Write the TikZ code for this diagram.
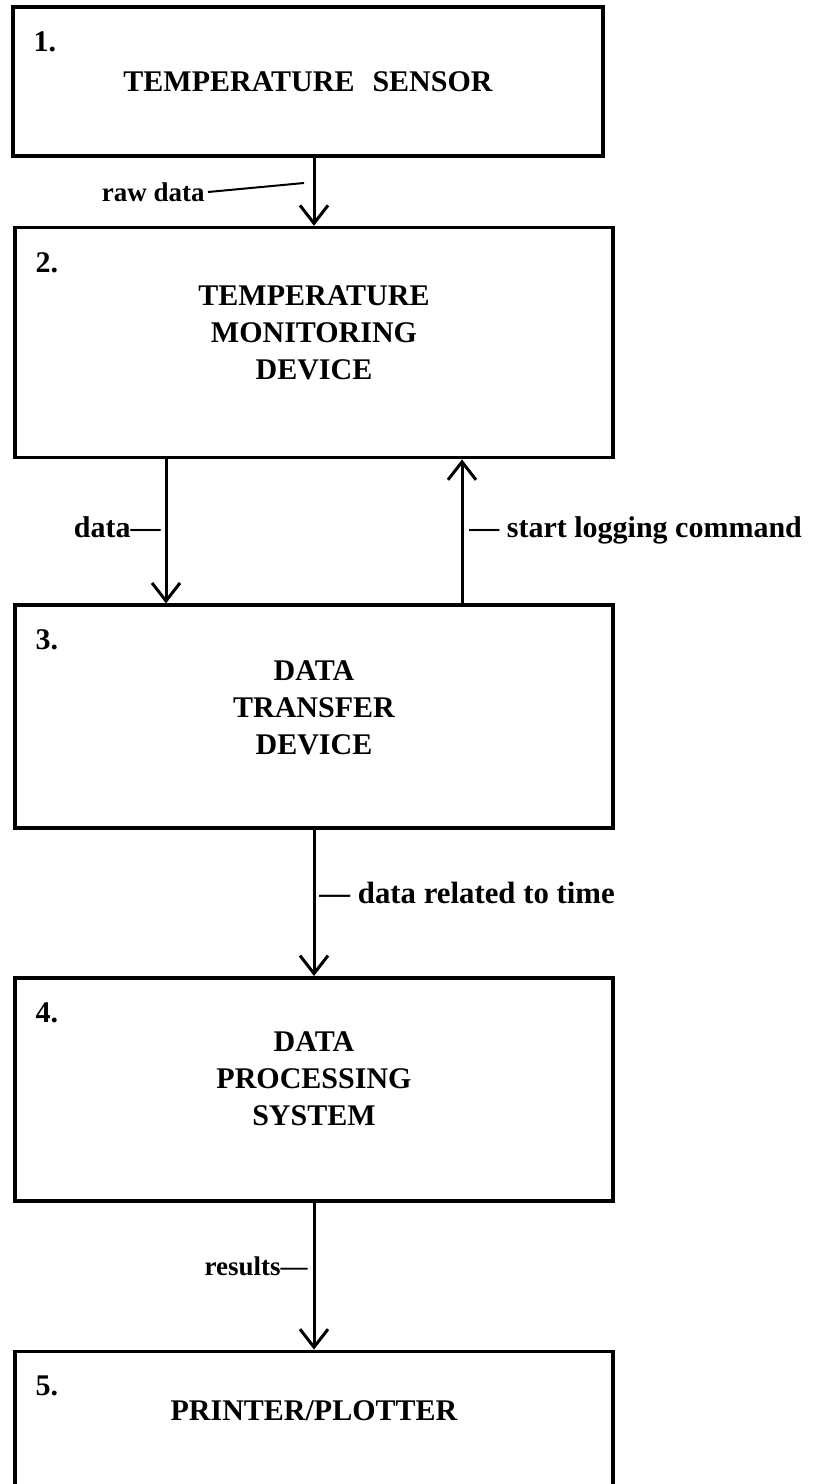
\documentclass[tikz,border=0pt]{standalone}
\usepackage{fontspec}
\setmainfont{Liberation Serif}
\usetikzlibrary{arrows.meta,positioning}
\tikzset{
  block/.style={draw,line width=1.8pt,inner sep=0pt,align=center,
                font=\fontsize{15}{18.5}\selectfont\bfseries,minimum width=299pt},
  num/.style={inner sep=0pt,anchor=north west,font=\fontsize{15}{18}\selectfont\bfseries},
  fl/.style={-{Straight Barb[length=9pt,width=14pt]},line width=1.5pt},
  lbl/.style={inner sep=1.5pt,font=\fontsize{15}{17}\selectfont\bfseries},
  lbls/.style={lbl,font=\fontsize{13.5}{15}\selectfont\bfseries},
  lead/.style={line width=1pt}
}
\begin{document}
\begin{tikzpicture}[x=0.5pt,y=-0.5pt]
  \clip (0,0) rectangle (822,1484);
  \node[block,minimum width=295pt,minimum height=74.5pt] (sensor) at (308,81.5) {TEMPERATURE\hspace{0.6em}SENSOR};
  \node[block,minimum height=115pt,text depth=10pt,below=34pt of sensor,xshift=3pt] (monitor) {TEMPERATURE\\MONITORING\\DEVICE};
  \node[block,minimum height=111.5pt,text depth=9pt,below=72pt of monitor] (transfer) {DATA\\TRANSFER\\DEVICE};
  \node[block,minimum height=111.5pt,text depth=11pt,below=73pt of transfer] (proc) {DATA\\PROCESSING\\SYSTEM};
  \node[block,minimum height=75pt,text depth=16pt,below=73.5pt of proc] (printer) {PRINTER/PLOTTER};
  % box numbers
  \foreach \b/\n in {sensor/1,monitor/2,transfer/3,proc/4,printer/5}
    \node[num] (n\n) at ([xshift=11pt,yshift=-13pt]\b.north west) {\n.};
  % flows
  \draw[fl] (sensor.south -| monitor.north) -- (monitor.north);
  \draw[fl] ([xshift=-74pt]monitor.south) -- ([xshift=-74pt]transfer.north);
  \draw[fl] ([xshift=74pt]transfer.north) -- ([xshift=74pt]monitor.south);
  \draw[fl] (transfer) -- (proc);
  \draw[fl] (proc) -- (printer);
  % labels
  \node[lbls,anchor=east] (raw) at (208,192) {raw data};
  \coordinate (rawend) at (304,183);
  \draw[lead] (raw.east) -- (rawend);
  \node[lbl,anchor=east] (datalbl) at (164,527) {data---};
  \node[lbl,anchor=west] (cmd) at (466,530) {--- start logging command};
  \node[lbl,anchor=west,font=\fontsize{15.4}{17}\selectfont\bfseries] (timelbl) at (316,893) {--- data related to time};
  \node[lbls,anchor=east] (res) at (311,1266) {results---};
\end{tikzpicture}
\end{document}
